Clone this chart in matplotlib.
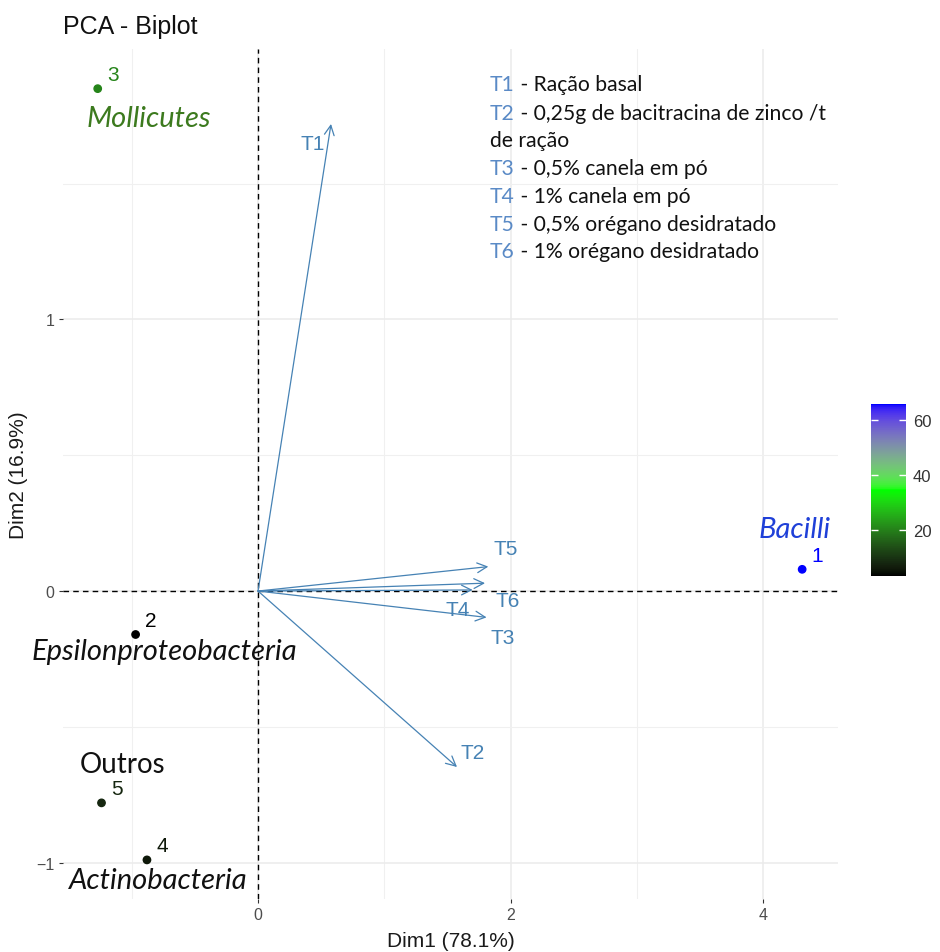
import numpy as np
import matplotlib
matplotlib.use("Agg")
import matplotlib.pyplot as plt
from matplotlib.colors import ListedColormap, Normalize
import matplotlib.cm as cm

plt.rcParams['font.family'] = ['Liberation Sans', 'DejaVu Sans']

# ---------------- data ----------------
ind_ids = ["1", "2", "3", "4", "5"]
ind_names = ["Bacilli", "Epsilonproteobacteria", "Mollicutes", "Actinobacteria", "Outros"]
ind_dim1 = [4.31, -0.97, -1.27, -0.88, -1.24]
ind_dim2 = [0.08, -0.16, 1.85, -0.99, -0.78]
ind_value = [65.8, 3.3, 20.5, 5.8, 8.0]

var_names = ["T1", "T2", "T3", "T4", "T5", "T6"]
var_dim1 = [0.578, 1.576, 1.81, 1.70, 1.824, 1.798]
var_dim2 = [1.720, -0.648, -0.097, 0.004, 0.090, 0.029]

legend_codes = ["T1", "T2", "", "T3", "T4", "T5", "T6"]
legend_texts = [" - Ração basal", " - 0,25g de bacitracina de zinco /t", "de ração",
                " - 0,5% canela em pó", " - 1% canela em pó",
                " - 0,5% orégano desidratado", " - 1% orégano desidratado"]

x_ticks = [0, 2, 4]
y_ticks = [-1, 0, 1]
cbar_ticks = [20, 40, 60]
gradient_cols = ["#000000", "#00FF00", "#0000FF"]

# ---------------- colour map (Lab interpolation like ggplot) ----------------
WHITE = np.array([0.95047, 1.0, 1.08883])
M = np.array([[0.4124, 0.3576, 0.1805], [0.2126, 0.7152, 0.0722], [0.0193, 0.1192, 0.9505]])
Minv = np.linalg.inv(M)

def hex2rgb(h):
    h = h.lstrip('#')
    return np.array([int(h[i:i + 2], 16) / 255 for i in (0, 2, 4)])

def rgb2lab(rgb):
    c = np.where(rgb <= 0.04045, rgb / 12.92, ((rgb + 0.055) / 1.055) ** 2.4)
    t = (M @ c) / WHITE
    f = np.where(t > 0.008856, np.cbrt(t), 7.787 * t + 16 / 116)
    return np.array([116 * f[1] - 16, 500 * (f[0] - f[1]), 200 * (f[1] - f[2])])

def lab2rgb(lab):
    L, a, b = lab
    fy = (L + 16) / 116
    f = np.array([fy + a / 500, fy, fy - b / 200])
    t = np.where(f ** 3 > 0.008856, f ** 3, (f - 16 / 116) / 7.787)
    c = Minv @ (t * WHITE)
    c = np.clip(c, 0, 1)
    s = np.where(c <= 0.0031308, 12.92 * c, 1.055 * c ** (1 / 2.4) - 0.055)
    return np.clip(s, 0, 1)

labs = [rgb2lab(hex2rgb(c)) for c in gradient_cols]
cols = []
N = 256
for i in range(N):
    u = i / (N - 1) * (len(labs) - 1)
    k = min(int(u), len(labs) - 2)
    f = u - k
    cols.append(lab2rgb(labs[k] * (1 - f) + labs[k + 1] * f))
cmap = ListedColormap(cols)
norm = Normalize(vmin=min(ind_value), vmax=max(ind_value))

# ---------------- figure ----------------
W, H = 940, 953
fig = plt.figure(figsize=(W / 100, H / 100), dpi=100)
ax = fig.add_axes([63 / W, 1 - 900 / H, (838 - 63) / W, (900 - 50) / H])
ax.set_xlim(-1.545, 4.594)
ax.set_ylim(-1.134, 1.996)

for s in ax.spines.values():
    s.set_visible(False)
ax.set_xticks(x_ticks)
ax.set_yticks(y_ticks)
ax.set_xticks([-1, 1, 3], minor=True)
ax.set_yticks([-0.5, 0.5, 1.5], minor=True)
ax.grid(True, which='major', color='#ebebeb', lw=1.1)
ax.grid(True, which='minor', color='#f0f0f0', lw=0.8)
ax.set_axisbelow(True)
ax.tick_params(which='major', length=3, color='#333333', labelsize=11.5, labelcolor='#4d4d4d', pad=3)
ax.tick_params(which='minor', length=0)

ax.axhline(0, color='black', lw=1, ls=(0, (4, 3)), zorder=1)
ax.axvline(0, color='black', lw=1, ls=(0, (4, 3)), zorder=1)

ax.set_xlabel("Dim1 (78.1%)", fontsize=15, color='#1a1a1a', labelpad=6)
ax.set_ylabel("Dim2 (16.9%)", fontsize=15, color='#1a1a1a', labelpad=6)
fig.text(63 / W, 1 - 27 / H, "PCA - Biplot", fontsize=18, ha='left', va='center', color='#111111')

# variable arrows
arrow_col = '#4682B4'
lab_off = [(-18, -20), (16, 15), (16, -20), (-15, -20), (17, 18), (23, -17)]
for name, x, y, off in zip(var_names, var_dim1, var_dim2, lab_off):
    ax.annotate('', xy=(x, y), xytext=(0, 0),
                arrowprops=dict(arrowstyle='->,head_length=0.7,head_width=0.35',
                                color=arrow_col, lw=0.9, shrinkA=0, shrinkB=0), zorder=3)
    ax.annotate(name, xy=(x, y), xytext=off, textcoords='offset pixels',
                ha='center', va='center', fontsize=15, color=arrow_col, zorder=4)

# individuals
pt_cols = cmap(norm(np.array(ind_value)))
ax.scatter(ind_dim1, ind_dim2, c=ind_value, cmap=cmap, norm=norm, s=28, zorder=5)
for i, (x, y) in enumerate(zip(ind_dim1, ind_dim2)):
    ax.annotate(ind_ids[i], xy=(x, y), xytext=(15, 14), textcoords='offset pixels',
                ha='center', va='center', fontsize=15, color=pt_cols[i], zorder=5)

name_off = [(-8, 40), (29, -17), (51, -29), (11, -20), (21, 39)]
name_col = ['#1f40d8', '#111111', '#3c7a1e', '#111111', '#111111']
name_style = ['italic', 'italic', 'italic', 'italic', 'normal']
name_size = [21, 21, 21, 21, 20]
for i, (x, y) in enumerate(zip(ind_dim1, ind_dim2)):
    ax.annotate(ind_names[i], xy=(x, y), xytext=name_off[i], textcoords='offset pixels',
                ha='center', va='center', fontsize=name_size[i], color=name_col[i],
                style=name_style[i], family=['Lato', 'DejaVu Sans'], zorder=6)

# legend text block
baselines = [91, 120, 147, 175, 203, 231, 258]
code_col = '#5a8ac6'
for code, txt, yb in zip(legend_codes, legend_texts, baselines):
    if code:
        t = fig.text(490 / W, 1 - yb / H, code, fontsize=15.2, color=code_col,
                     family=['Lato', 'DejaVu Sans'], ha='left', va='baseline')
        ax.annotate(txt, xy=(1, 0), xycoords=t, fontsize=15.2, color='#111111',
                    family=['Lato', 'DejaVu Sans'], ha='left', va='bottom', annotation_clip=False)
    else:
        fig.text(490 / W, 1 - yb / H, txt, fontsize=15.2, color='#111111',
                 family=['Lato', 'DejaVu Sans'], ha='left', va='baseline')

# colourbar
cax = fig.add_axes([871 / W, 1 - 577 / H, 35 / W, 172 / H])
cb = fig.colorbar(cm.ScalarMappable(norm=norm, cmap=cmap), cax=cax, ticks=cbar_ticks)
cb.outline.set_visible(False)
cax.tick_params(direction='in', length=5, width=1, color='white', labelsize=12,
                labelcolor='#333333', left=True, right=True, pad=5)

fig.savefig("out.png", dpi=100)
